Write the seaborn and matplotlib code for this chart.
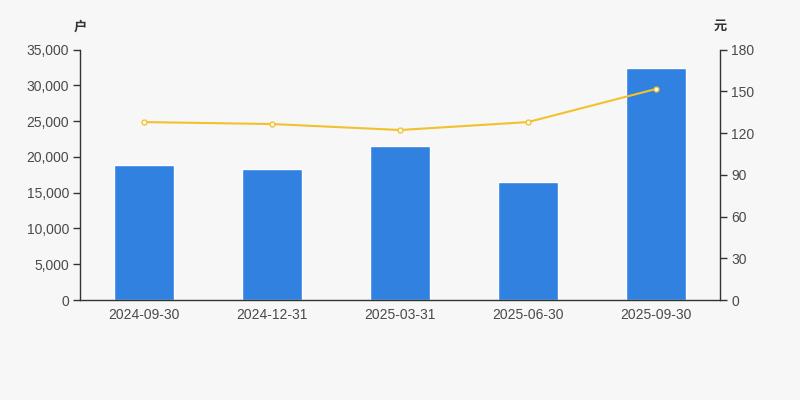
import matplotlib
matplotlib.use("Agg")
import matplotlib.pyplot as plt
import seaborn as sns
import numpy as np
from matplotlib.ticker import FuncFormatter, FixedLocator

# data
dates = ["2024-09-30", "2024-12-31", "2025-03-31", "2025-06-30", "2025-09-30"]
holders = [18800, 18340, 21470, 16520, 32390]   # 户
prices = [127.9, 126.5, 122.2, 127.9, 151.7]    # 元

left_ticks = [0, 5000, 10000, 15000, 20000, 25000, 30000, 35000]
right_ticks = [0, 30, 60, 90, 120, 150, 180]

bg = "#f7f7f7"
bar_color = "#3181e1"
line_color = "#f2c12e"
axis_color = "#333333"
text_color = "#4a4a4a"

sns.set_style("white")
plt.rcParams["font.family"] = ["Liberation Sans", "Noto Sans CJK SC", "DejaVu Sans"]

fig = plt.figure(figsize=(8, 4), dpi=100, facecolor=bg)
ax = fig.add_axes([0.1, 0.25, 0.8, 0.626])
ax.set_facecolor(bg)

sns.barplot(x=dates, y=holders, color=bar_color, width=0.47, saturation=1, ax=ax)
ax.set_ylim(0, 35000)
ax.set_xlim(-0.5, len(dates) - 0.5)
ax.set_yticks(left_ticks)
ax.yaxis.set_major_formatter(FuncFormatter(lambda v, p: f"{int(v):,}"))

ax2 = ax.twinx()
sns.pointplot(x=dates, y=prices, color=line_color, markers="o", ax=ax2,
              markersize=3.5, linewidth=1.5, markerfacecolor="white",
              markeredgecolor=line_color, markeredgewidth=1)
ax2.set_ylim(0, 180)
ax2.set_xlim(-0.5, len(dates) - 0.5)
ax2.set_yticks(right_ticks)

for a in (ax, ax2):
    a.spines["top"].set_visible(False)
    a.set_xlabel("")
    a.set_ylabel("")
    a.grid(False)
ax.spines["right"].set_visible(False)
ax2.spines["left"].set_visible(False)
ax2.spines["bottom"].set_visible(False)
for sp in (ax.spines["left"], ax.spines["bottom"], ax2.spines["right"]):
    sp.set_color(axis_color)
    sp.set_linewidth(1)

ax.tick_params(axis="y", direction="out", length=5, width=1, color=axis_color,
               labelsize=10, labelcolor=text_color, pad=3)
ax2.tick_params(axis="y", direction="out", length=5, width=1, color=axis_color,
                labelsize=10, labelcolor=text_color, pad=3)
ax.tick_params(axis="x", which="major", length=0, labelsize=10,
               labelcolor=text_color, pad=6)
ax.xaxis.set_minor_locator(FixedLocator(np.arange(len(dates) + 1) - 0.5))
ax.tick_params(axis="x", which="minor", direction="out", length=5, width=1,
               color=axis_color)

fig.text(0.1, 0.932, "户", ha="center", va="center", fontsize=9.5,
         color=axis_color, fontweight="bold")
fig.text(0.9, 0.932, "元", ha="center", va="center", fontsize=9.5,
         color=axis_color, fontweight="bold")

fig.savefig("out.png", dpi=100, facecolor=bg)
